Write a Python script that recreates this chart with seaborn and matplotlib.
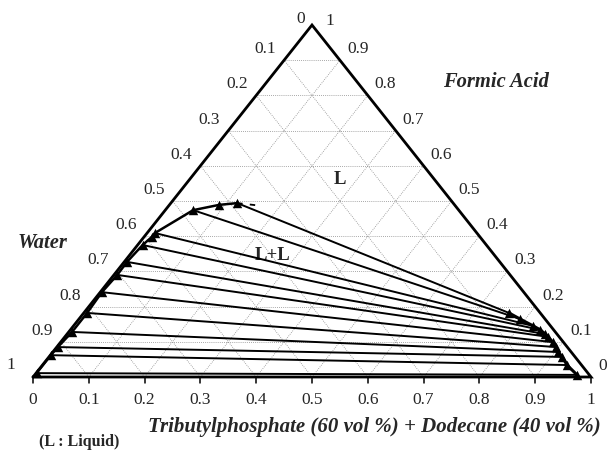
import numpy as np
import pandas as pd
import matplotlib
matplotlib.use("Agg")
import matplotlib.pyplot as plt
import seaborn as sns

# tie lines, mass fractions (solvent = TBP 60 vol% + dodecane 40 vol%)
aq_solvent = [0.119, 0.050, 0.014, 0.009, 0.005, 0.006, 0.003, 0.006, 0.006, 0.002, 0.001, 0.001]
aq_acid = [0.494, 0.474, 0.409, 0.375, 0.327, 0.290, 0.241, 0.182, 0.128, 0.085, 0.062, 0.011]
org_solvent = [0.762, 0.790, 0.824, 0.842, 0.857, 0.866, 0.882, 0.895, 0.905, 0.920, 0.940, 0.972]
org_acid = [0.182, 0.165, 0.145, 0.134, 0.122, 0.114, 0.099, 0.085, 0.071, 0.057, 0.034, 0.006]

# binodal points without a tie line
extra_solvent = [0.089, 0.014]
extra_acid = [0.489, 0.398]

# dashed end of the binodal past the plait point
dash_solvent = [0.119, 0.168]
dash_acid = [0.494, 0.486]

ticks = [0, 0.1, 0.2, 0.3, 0.4, 0.5, 0.6, 0.7, 0.8, 0.9, 1]
tick_text = ["0", "0.1", "0.2", "0.3", "0.4", "0.5", "0.6", "0.7", "0.8", "0.9", "1"]

H = 352 / 558  # height of the (squashed) triangle


def to_xy(s, a):
    s = np.asarray(s, dtype=float)
    a = np.asarray(a, dtype=float)
    return s + 0.5 * a, a * H


sns.set_style("white")
plt.rcParams["font.family"] = ["Liberation Serif", "DejaVu Serif"]

fig = plt.figure(figsize=(6.09, 4.59), dpi=100)
ax = fig.add_axes([0, 0, 1, 1])
ax.set_xlim(-33 / 558, (609 - 33) / 558)
ax.set_ylim((377 - 459) / 558, 377 / 558)
ax.axis("off")

# dotted grid
grid_kw = dict(color="#8c8c8c", lw=0.6, ls=(0, (1, 1.5)), zorder=1)
for v in ticks[1:-1]:
    x, y = to_xy([0, 1 - v], [v, v])
    ax.plot(x, y, **grid_kw)
    x, y = to_xy([v, v], [0, 1 - v])
    ax.plot(x, y, **grid_kw)
    x, y = to_xy([1 - v, 0], [0, 1 - v])
    ax.plot(x, y, **grid_kw)

# frame
ax.plot([0, 1, 0.5, 0], [0, 0, H, 0], color="k", lw=2, zorder=3, solid_joinstyle="miter")

# bottom ticks
for v in ticks:
    ax.plot([v, v], [0, -6 / 558], color="k", lw=1.1, zorder=3)

# tie lines
rows = []
for i in range(len(aq_acid)):
    for s, a in [(aq_solvent[i], aq_acid[i]), (org_solvent[i], org_acid[i])]:
        x, y = to_xy(s, a)
        rows.append({"tie": i, "x": float(x), "y": float(y)})
ties = pd.DataFrame(rows)
sns.lineplot(data=ties, x="x", y="y", units="tie", estimator=None, sort=False,
             color="k", lw=1.4, ax=ax, zorder=4)

# binodal curve
aq = pd.DataFrame({"s": aq_solvent + extra_solvent, "a": aq_acid + extra_acid}).sort_values("a")
bx, by = to_xy(aq["s"], aq["a"])
ax.plot(bx, by, color="k", lw=1.8, zorder=4)
ox, oy = to_xy(org_solvent, org_acid)
ax.plot(ox, oy, color="k", lw=2.2, zorder=4)
dx, dy = to_xy(dash_solvent, dash_acid)
ax.plot(dx, dy, color="k", lw=1.3, ls=(0, (3, 4)), zorder=4)

pts = pd.DataFrame({
    "x": np.concatenate([bx, ox]),
    "y": np.concatenate([by, oy]),
})
sns.scatterplot(data=pts, x="x", y="y", marker="^", color="k", s=46,
                edgecolor="k", linewidth=0, ax=ax, zorder=5)

# tick labels
fs = 12.5
for v, t in zip(ticks, tick_text):
    ax.text(v, -23 / 558, t, ha="center", va="center", fontsize=fs)
for v, t in zip(ticks, tick_text):
    # water on the left side
    x, y = to_xy(0, 1 - v)
    off = (-8, 11)
    if v == 0:
        off = (-7, 6)
    elif v == 1:
        off = (-18, 12)
    ax.annotate(t, (x, y), xytext=off, textcoords="offset pixels",
                ha="right", va="center", fontsize=fs)
    # formic acid on the right side
    x, y = to_xy(1 - v, v)
    off = (13, 4) if v == 1 else (7, 11)
    ax.annotate(t, (x, y), xytext=off, textcoords="offset pixels",
                ha="left", va="center", fontsize=fs)

title_kw = dict(fontsize=14.8, fontweight="bold", fontstyle="italic")
ax.text((496 - 33) / 558, (377 - 82) / 558, "Formic Acid", ha="center", va="center", **title_kw)
ax.text((43 - 33) / 558, (377 - 243) / 558, "Water", ha="center", va="center", **title_kw)
ax.text((601 - 33) / 558, (377 - 427) / 558,
        "Tributylphosphate (60 vol %) + Dodecane (40 vol %)", ha="right", va="center",
        fontsize=15.0, fontweight="bold", fontstyle="italic")

ax.text((340 - 33) / 558, (377 - 180) / 558, "L", ha="center", va="center",
        fontsize=13.5, fontweight="bold")
ax.text((273 - 33) / 558, (377 - 255) / 558, "L+L", ha="center", va="center",
        fontsize=13.5, fontweight="bold")
ax.text((39 - 33) / 558, (377 - 442) / 558, "(L : Liquid)", ha="left", va="center",
        fontsize=11.5, fontweight="bold")

fig.savefig("out.png", dpi=100)
